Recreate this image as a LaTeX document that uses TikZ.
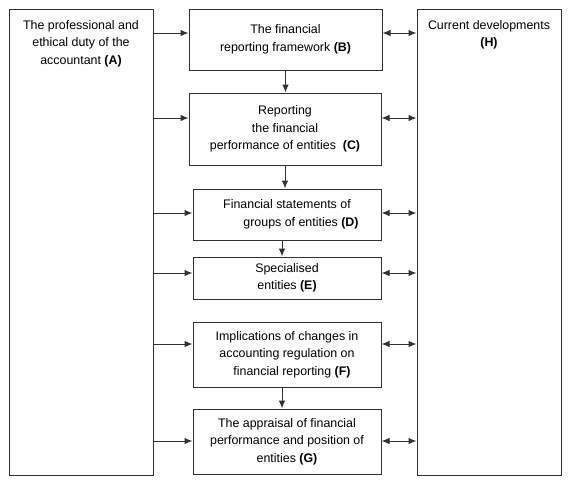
\documentclass[tikz,border=0pt]{standalone}
\usepackage{fontspec}
\setmainfont{Liberation Sans}
\usetikzlibrary{arrows.meta,positioning}

\newcommand\boxfont{\fontsize{12.4}{17.5}\selectfont}

\begin{document}
\begin{tikzpicture}[x=1pt,y=-1pt,line width=1pt,
      >={Latex[length=8pt,width=6.5pt]},
      box/.style={rectangle,draw=black!80,inner sep=0pt,align=center,font=\boxfont},
      side/.style={box,minimum width=144pt,minimum height=466pt},
      mid/.style={box,minimum width=188pt},
      lbl/.style={anchor=north,inner sep=0pt,align=center,font=\boxfont},
      link/.style={->,draw=black!80},
      both/.style={<->,draw=black!80}]
      \useasboundingbox (0,0) rectangle (571,483);

      % outer columns
      \node[side] (A) at ( 81, 242) {};
      \node[side] (H) at (489, 242) {};
      \node[lbl,below=11.5pt of A.north] (At) {The professional and\\ethical duty of the\\accountant \textbf{(A)}};
      \node[lbl,below=11.5pt of H.north] (Ht) {Current developments\\\textbf{(H)}};

      % middle column
      \node[box,minimum width=193pt,minimum height=61pt] (B) at (285.5, 39.5)
        {The financial\\reporting framework \textbf{(B)}};
      \node[box,minimum width=192pt,minimum height=72pt] (C) at (285, 129)
        {Reporting\\the financial\\performance of entities~~\textbf{(C)}};
      \node[mid,minimum height=51pt] (D) at (287, 214.5)
        {Financial statements of\\\hspace*{28pt}groups of entities \textbf{(D)}};
      \node[mid,minimum height=42pt] (E) at (287, 278)
        {Specialised\\entities \textbf{(E)}};
      \node[mid,minimum height=65pt] (F) at (287, 354.5)
        {Implications of changes in\\accounting regulation on\hspace*{30pt}\\\hspace*{10pt}financial reporting \textbf{(F)}};
      \node[mid,minimum height=65pt] (G) at (287, 441.5)
        {The appraisal of financial\\performance and position of\\entities \textbf{(G)}};

      % rows of the arrows
      \coordinate (rB) at (0,  33);
      \coordinate (rC) at (0, 118);
      \coordinate (rD) at (0, 213);
      \coordinate (rE) at (0, 273);
      \coordinate (rF) at (0, 344);
      \coordinate (rG) at (0, 441);
      \coordinate (cx) at (282, 0);

      \draw[link] (A.east |- rB) -- (B.west |- rB);
      \draw[link] (A.east |- rC) -- (C.west |- rC);
      \draw[link] (A.east |- rD) -- (D.west |- rD);
      \draw[link] (A.east |- rE) -- (E.west |- rE);
      \draw[link] (A.east |- rF) -- (F.west |- rF);
      \draw[link] (A.east |- rG) -- (G.west |- rG);

      \draw[both] (B.east |- rB) -- (H.west |- rB);
      \draw[both] (C.east |- rC) -- (H.west |- rC);
      \draw[both] (D.east |- rD) -- (H.west |- rD);
      \draw[both] (E.east |- rE) -- (H.west |- rE);
      \draw[both] (F.east |- rF) -- (H.west |- rF);
      \draw[both] (G.east |- rG) -- (H.west |- rG);

      \draw[link] (B.south) -- (B.south |- C.north);
      \draw[link] (C.south) -- (C.south |- D.north);
      \draw[link] (D.south -| cx) -- (E.north -| cx);
      \draw[link] (F.south -| cx) -- (G.north -| cx);
\end{tikzpicture}
\end{document}
